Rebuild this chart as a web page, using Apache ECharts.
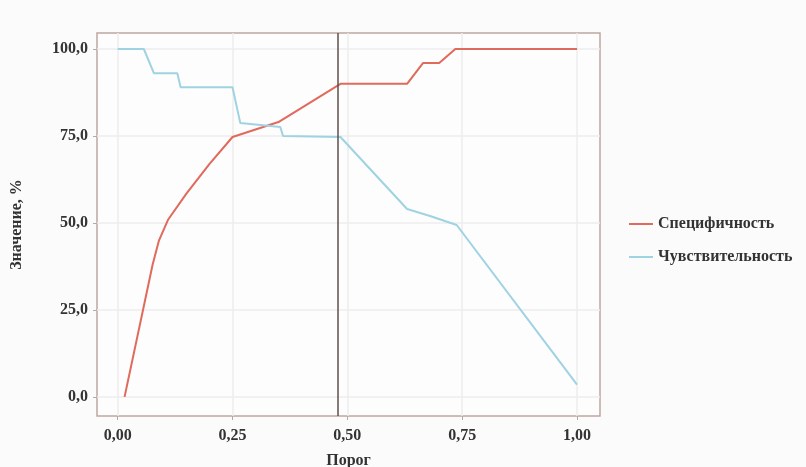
<!DOCTYPE html>
<html>
<head>
<meta charset="utf-8">
<script src="https://cdn.jsdelivr.net/npm/echarts@6/dist/echarts.min.js"></script>
<style>
  html, body { margin: 0; padding: 0; background: #fbfbfb; }
  #main { width: 806px; height: 467px; }
</style>
</head>
<body>
<div id="main"></div>
<script>
// данные
var specX = [0.015, 0.06, 0.076, 0.09, 0.11, 0.15, 0.2, 0.25, 0.35, 0.485, 0.63, 0.665, 0.70, 0.735, 1.0];
var specY = [0, 28, 38, 45, 51, 58.5, 67, 74.7, 79, 90, 90, 96, 96, 100, 100];

var sensX = [0.0, 0.057, 0.079, 0.13, 0.137, 0.25, 0.267, 0.354, 0.36, 0.485, 0.56, 0.63, 0.68, 0.738, 1.0];
var sensY = [100, 100, 93, 93, 89, 89, 78.7, 77.6, 75, 74.7, 64, 54, 52, 49.4, 3.5];

var xTicks = [0, 0.25, 0.5, 0.75, 1.0];
var yTicks = [0, 25, 50, 75, 100];
var threshold = 0.485;

function pairs(xs, ys) {
  var out = [];
  for (var i = 0; i < xs.length; i++) out.push([xs[i], ys[i]]);
  return out;
}

var txt = { fontFamily: 'Liberation Serif', fontSize: 16, fontWeight: 'bold', color: '#333' };

var myChart = echarts.init(document.getElementById('main'));
var option = {
  backgroundColor: '#fbfbfb',
  animation: false,
  grid: {
    left: 97, right: 206, top: 33, bottom: 51,
    containLabel: false, outerBoundsMode: 'none',
    show: true, borderColor: '#bda6a1', borderWidth: 1.5, backgroundColor: '#fdfdfd'
  },
  legend: {
    orient: 'vertical',
    left: 624, top: 211,
    itemWidth: 24, itemHeight: 2, itemGap: 17,
    textStyle: txt,
    data: [
      { name: 'Специфичность', icon: 'rect' },
      { name: 'Чувствительность', icon: 'rect' }
    ]
  },
  xAxis: {
    type: 'value', min: -0.045, max: 1.05,
    name: 'Порог', nameLocation: 'middle', nameGap: 37,
    nameTextStyle: txt,
    axisLine: { show: false, onZero: false },
    axisTick: { show: true, customValues: xTicks, length: 4, lineStyle: { color: '#bda6a1' } },
    axisLabel: {
      customValues: xTicks, margin: 12, fontFamily: 'Liberation Serif', fontSize: 16, fontWeight: 'bold', color: '#333',
      formatter: function (v) { return v.toFixed(2).replace('.', ','); }
    },
    splitLine: { show: true, lineStyle: { color: '#ececec', width: 1.5 } }
  },
  yAxis: {
    type: 'value', min: -5.5, max: 104.6,
    name: 'Значение, %', nameLocation: 'middle', nameGap: 72, nameRotate: 90,
    nameTextStyle: txt,
    axisLine: { show: false, onZero: false },
    axisTick: { show: true, customValues: yTicks, length: 4, lineStyle: { color: '#bda6a1' } },
    axisLabel: {
      customValues: yTicks, margin: 9, fontFamily: 'Liberation Serif', fontSize: 16, fontWeight: 'bold', color: '#333',
      formatter: function (v) { return v.toFixed(1).replace('.', ','); }
    },
    splitLine: { show: true, lineStyle: { color: '#ececec', width: 1.5 } }
  },
  series: [
    {
      name: 'Специфичность', type: 'line', showSymbol: false,
      data: pairs(specX, specY),
      itemStyle: { color: '#e06a5c' },
      lineStyle: { color: '#e06a5c', width: 2 },
      markLine: {
        silent: true, symbol: 'none', label: { show: false },
        lineStyle: { color: '#5e4f4b', width: 1.5, type: 'solid' },
        data: [{ xAxis: threshold }]
      }
    },
    {
      name: 'Чувствительность', type: 'line', showSymbol: false,
      data: pairs(sensX, sensY),
      itemStyle: { color: '#9fd3e2' },
      lineStyle: { color: '#9fd3e2', width: 2 }
    }
  ]
};
myChart.setOption(option);
</script>
</body>
</html>
